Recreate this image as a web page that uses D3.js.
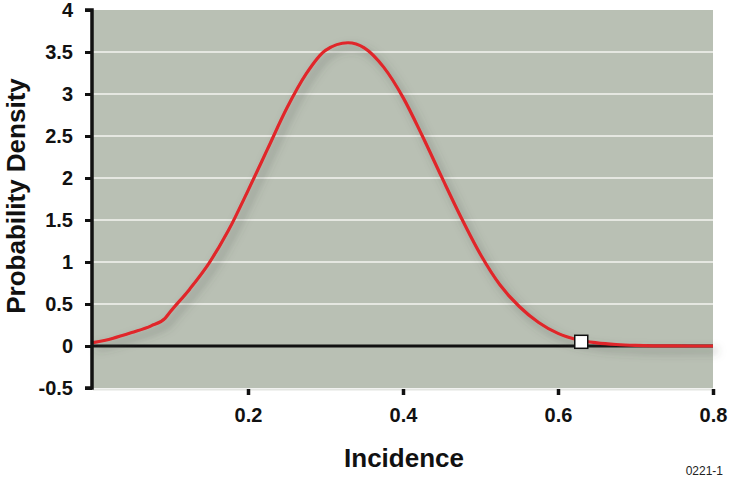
<!DOCTYPE html>
<html>
<head>
<meta charset="utf-8">
<script src="https://cdn.jsdelivr.net/npm/d3@7"></script>
<style>
  body { margin: 0; background: #fff; }
  text { font-family: "Liberation Sans", Arial, sans-serif; }
</style>
</head>
<body>
<svg id="chart" width="730" height="483"></svg>
<script>
// curve
var incidence = [0, 0.025, 0.05, 0.075, 0.093, 0.1, 0.125, 0.15, 0.175, 0.2, 0.225, 0.25, 0.275, 0.3, 0.329,
                 0.35, 0.375, 0.4, 0.425, 0.45, 0.475, 0.5, 0.525, 0.55, 0.575, 0.6, 0.625, 0.65, 0.675, 0.7, 0.75, 0.8];
var density = [0.04, 0.09, 0.16, 0.24, 0.33, 0.41, 0.68, 0.99, 1.38, 1.85, 2.34, 2.83, 3.24, 3.52, 3.61,
               3.55, 3.32, 2.96, 2.50, 2.01, 1.53, 1.09, 0.73, 0.47, 0.28, 0.15, 0.075, 0.038, 0.018, 0.008, 0.001, 0];
var marker = [0.63, 0.05];
var xTicks = [0.2, 0.4, 0.6, 0.8];
var yTicks = [-0.5, 0, 0.5, 1, 1.5, 2, 2.5, 3, 3.5, 4];

var svg = d3.select("#chart");
var plotL = 93, plotR = 713, plotT = 10, plotB = 388;

var x = d3.scaleLinear().domain([0, 0.8]).range([plotL, plotR]);
var y = d3.scaleLinear().domain([-0.5, 4]).range([plotB, plotT]);

var defs = svg.append("defs");
var f = defs.append("filter").attr("id", "shadow")
    .attr("x", "-10%").attr("y", "-10%").attr("width", "130%").attr("height", "130%");
f.append("feDropShadow").attr("dx", 4).attr("dy", 5).attr("stdDeviation", 4)
    .attr("flood-color", "#4a4f48").attr("flood-opacity", 0.5);

// plot background
svg.append("rect")
    .attr("x", plotL).attr("y", plotT)
    .attr("width", plotR - plotL).attr("height", plotB - plotT)
    .attr("fill", "#b9c0b4");
svg.append("line")
    .attr("x1", plotL).attr("x2", plotR)
    .attr("y1", plotB + 1.5).attr("y2", plotB + 1.5)
    .attr("stroke", "#e4e6e2").attr("stroke-width", 2);

// gridlines
svg.append("g").selectAll("line")
    .data(yTicks.filter(function(d) { return d > 0 && d < 4; }))
    .enter().append("line")
      .attr("x1", plotL).attr("x2", plotR)
      .attr("y1", function(d) { return y(d); })
      .attr("y2", function(d) { return y(d); })
      .attr("stroke", "#f4f4f0").attr("stroke-width", 1.3);

// zero line
svg.append("line")
    .attr("x1", plotL).attr("x2", plotR)
    .attr("y1", y(0)).attr("y2", y(0))
    .attr("stroke", "#111").attr("stroke-width", 3);

// curve
var line = d3.line()
    .x(function(d, i) { return x(incidence[i]); })
    .y(function(d) { return y(d); })
    .curve(d3.curveMonotoneX);

svg.append("path")
    .datum(density)
    .attr("d", line)
    .attr("fill", "none")
    .attr("stroke", "#e0262a")
    .attr("stroke-width", 3.2)
    .attr("filter", "url(#shadow)");

svg.append("rect")
    .attr("x", x(marker[0]) - 6.5).attr("y", y(marker[1]) - 6.5)
    .attr("width", 13).attr("height", 13)
    .attr("fill", "#fff").attr("stroke", "#111").attr("stroke-width", 1.5);

// y axis
var yAxis = d3.axisLeft(y).tickValues(yTicks).tickSize(7).tickPadding(12)
    .tickFormat(function(d) { return d; });
var gy = svg.append("g").attr("transform", "translate(" + (plotL - 1) + ",0)").call(yAxis);
gy.select(".domain").attr("stroke", "#111").attr("stroke-width", 3.5)
    .attr("d", "M-7," + plotB + "H0V" + plotT + "H-7");
gy.selectAll(".tick line").attr("stroke", "#111").attr("stroke-width", 3);
gy.selectAll(".tick text")
    .style("font-size", "20px").style("font-weight", "bold").attr("fill", "#111")
    .style("font-family", "'Liberation Sans', Arial, sans-serif");

// x axis
var xAxis = d3.axisBottom(x).tickValues(xTicks).tickSize(6).tickPadding(13)
    .tickFormat(d3.format(".1f"));
var gx = svg.append("g").attr("transform", "translate(0," + (plotB + 1) + ")").call(xAxis);
gx.select(".domain").remove();
gx.selectAll(".tick line").attr("stroke", "#111").attr("stroke-width", 3.5);
gx.selectAll(".tick text")
    .style("font-size", "20px").style("font-weight", "bold").attr("fill", "#111")
    .style("font-family", "'Liberation Sans', Arial, sans-serif");

// titles
svg.append("text")
    .attr("x", 404).attr("y", 467)
    .attr("text-anchor", "middle")
    .style("font-size", "26px").style("font-weight", "bold").attr("fill", "#111")
    .text("Incidence");

svg.append("text")
    .attr("transform", "translate(25,196) rotate(-90)")
    .attr("text-anchor", "middle")
    .style("font-size", "26px").style("font-weight", "bold").attr("fill", "#111")
    .text("Probability Density");

svg.append("text")
    .attr("x", 723).attr("y", 475)
    .attr("text-anchor", "end")
    .style("font-size", "12px").attr("fill", "#222")
    .text("0221-1");
</script>
</body>
</html>
